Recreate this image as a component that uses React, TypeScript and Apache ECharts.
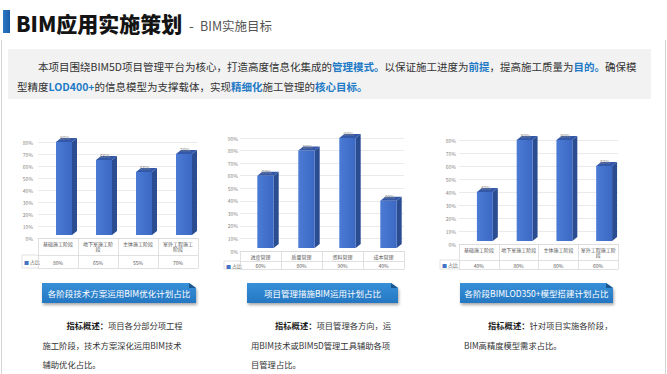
import React, { useEffect, useRef } from 'react';
import * as echarts from 'echarts';

const FONT = '"Noto Sans CJK SC", "Noto Sans", sans-serif';

// ---------- data ----------
const stageCategories1 = ['基础施工阶段', '地下室施工阶\n段', '主体施工阶段', '室外工程施工\n阶段'];
const techPlanValues = [80, 65, 55, 70];
const mgmtCategories = ['进度管理', '质量管理', '资料管理', '成本管理'];
const mgmtPlanValues = [60, 80, 90, 40];
const stageCategories3 = ['基础施工阶段', '地下室施工阶段', '主体施工阶段', '室外工程施工阶\n段'];
const modelPlanValues = [40, 80, 80, 60];
const seriesName = '占比';
const yTickStep = 10;

const titleMain = 'BIM应用实施策划';
const titleSub = 'BIM实施目标';
const introLine1 = '　　本项目围绕BIM5D项目管理平台为核心，打造高度信息化集成的{h|管理模式。}以保证施工进度为{h|前提}，提高施工质量为{h|目的。}确保模';
const introLine2 = '型精度{h|LOD400+}的信息模型为支撑载体，实现{h|精细化}施工管理的{h|核心目标。}';
const bannerTitles = ['各阶段技术方案运用BIM优化计划占比', '项目管理措施BIM运用计划占比', '各阶段BIMLOD350+模型搭建计划占比'];
const descLead = '指标概述：';
const descLines = [
  ['项目各分部分项工程', '施工阶段，技术方案深化运用BIM技术', '辅助优化占比。'],
  ['项目管理各方向，运', '用BIM技术或BIM5D管理工具辅助各项', '目管理占比。'],
  ['针对项目实施各阶段，', 'BIM高精度模型需求占比。'],
];

// ---------- layout ----------
const chartLayout = [
  { cats: stageCategories1, values: techPlanValues, left: 38, top: 142, width: 160, height: 96, rowOffset: 17, tableH: 30, rowMargin: 4.5, cellLeft: 22, labelMargin: 5, barDx: 6 },
  { cats: mgmtCategories, values: mgmtPlanValues, left: 240, top: 138, width: 164, height: 113, rowOffset: 10, tableH: 18, rowMargin: 1.5, cellLeft: 224, labelMargin: 2, barDx: 5 },
  { cats: stageCategories3, values: modelPlanValues, left: 459, top: 140, width: 159, height: 104, rowOffset: 16, tableH: 25, rowMargin: 2.5, cellLeft: 440, labelMargin: 3, barDx: 6 },
];
const bannerLayout = [{ x: 42, w: 154 }, { x: 247, w: 151 }, { x: 460, w: 153 }];
const descX = [42.5, 251, 464];

const TABLE_LINE = '#d9d9d9';

function makeRender(dx: number) {
  return (params: any, api: any) => {
    const idx = api.value(0);
    const val = api.value(1);
    const top = api.coord([idx, val]);
    const base = api.coord([idx, 0]);
    const w = api.size([1, 0])[0] * 0.4;
    const cx = top[0] + dx;
    const x0 = cx - w / 2;
    const x1 = cx + w / 2;
    const yT = top[1];
    const yB = base[1] - 3;
    const d = 5;
    const h = 4;
    return {
      type: 'group',
      children: [
        {
          type: 'polygon',
          shape: { points: [[x1, yT], [x1 + d, yT - h], [x1 + d, yB - h], [x1, yB]] },
          style: { fill: '#2a4d92' },
        },
        {
          type: 'rect',
          shape: { x: x0, y: yT, width: w, height: yB - yT },
          style: {
            fill: new echarts.graphic.LinearGradient(0, 0, 1, 0, [
              { offset: 0, color: '#4b7bd5' },
              { offset: 1, color: '#3b68c3' },
            ]),
          },
        },
        {
          type: 'polygon',
          shape: { points: [[x0, yT], [x0 + d, yT - h], [x1 + d, yT - h], [x1, yT]] },
          style: { fill: '#3458a8' },
        },
        {
          type: 'text',
          style: {
            text: val + '%',
            x: cx + 1,
            y: yT - 2,
            align: 'center',
            verticalAlign: 'bottom',
            textAlign: 'center',
            textVerticalAlign: 'bottom',
            fontSize: 5,
            fontFamily: FONT,
            fill: '#8a8a8a',
          },
        },
      ],
    };
  };
}

export default function App() {
  const ref = useRef<HTMLDivElement>(null);

  useEffect(() => {
    if (!ref.current) return;
    const chart = echarts.init(ref.current, undefined, { renderer: 'svg' });

    const grids: any[] = [];
    const xAxes: any[] = [];
    const yAxes: any[] = [];
    const series: any[] = [];
    const graphics: any[] = [];

    chartLayout.forEach((c, k) => {
      grids.push({ left: c.left, top: c.top, width: c.width, height: c.height, containLabel: false });
      const maxV = Math.ceil(Math.max(...c.values) / yTickStep) * yTickStep;
      yAxes.push({
        type: 'value',
        gridIndex: k,
        min: 0,
        max: maxV,
        interval: yTickStep,
        axisLine: { show: false },
        axisTick: { show: false },
        axisLabel: { formatter: '{value}%', fontSize: 5, color: '#7f7f7f', margin: c.labelMargin, fontFamily: FONT },
        splitLine: { lineStyle: { color: '#e4e4e4', width: 0.8 } },
      });
      xAxes.push({
        type: 'category',
        gridIndex: k,
        position: 'bottom',
        data: c.cats,
        axisLine: { show: true, lineStyle: { color: TABLE_LINE, width: 0.8 } },
        axisTick: { show: true, length: c.tableH, lineStyle: { color: TABLE_LINE, width: 0.8 } },
        axisLabel: { interval: 0, fontSize: 5, lineHeight: 5.5, color: '#595959', margin: 2.5, fontFamily: FONT },
        splitLine: { show: false },
      });
      xAxes.push({
        type: 'category',
        gridIndex: k,
        position: 'bottom',
        offset: c.rowOffset,
        data: c.values.map((v) => v + '%'),
        axisLine: { show: true, lineStyle: { color: TABLE_LINE, width: 0.8 } },
        axisTick: { show: false },
        axisLabel: { interval: 0, fontSize: 5, color: '#595959', margin: c.rowMargin, fontFamily: FONT },
      });
      xAxes.push({
        type: 'category',
        gridIndex: k,
        position: 'bottom',
        offset: c.tableH,
        data: c.cats,
        axisLine: { show: true, lineStyle: { color: TABLE_LINE, width: 0.8 } },
        axisTick: { show: false },
        axisLabel: { show: false },
      });
      series.push({
        type: 'custom',
        name: seriesName,
        xAxisIndex: k * 3,
        yAxisIndex: k,
        data: c.values.map((v, i) => [i, v]),
        encode: { x: 0, y: 1 },
        renderItem: makeRender(c.barDx),
      });

      // legend cell of the data table
      const axisY = c.top + c.height;
      const dividerY = axisY + c.rowOffset;
      const bottomY = axisY + c.tableH;
      const ls = { stroke: TABLE_LINE, lineWidth: 0.8 };
      graphics.push(
        { type: 'line', shape: { x1: c.cellLeft, y1: dividerY, x2: c.left, y2: dividerY }, style: ls },
        { type: 'line', shape: { x1: c.cellLeft, y1: bottomY, x2: c.left, y2: bottomY }, style: ls },
        { type: 'line', shape: { x1: c.cellLeft, y1: dividerY, x2: c.cellLeft, y2: bottomY }, style: ls },
        {
          type: 'text',
          style: {
            text: '{m|■} ' + seriesName,
            x: c.cellLeft + 2,
            y: (dividerY + bottomY) / 2,
            verticalAlign: 'middle',
            textVerticalAlign: 'middle',
            fontSize: 5,
            fontFamily: FONT,
            fill: '#595959',
            rich: { m: { fill: '#4472c4', color: '#4472c4', fontSize: 5, fontFamily: FONT } },
          },
        }
      );
    });

    // page frame
    graphics.push(
      { type: 'line', shape: { x1: 1.5, y1: 40, x2: 1.5, y2: 374 }, style: { stroke: '#d4d4d4', lineWidth: 1 } },
      { type: 'line', shape: { x1: 665.5, y1: 40, x2: 665.5, y2: 374 }, style: { stroke: '#d4d4d4', lineWidth: 1 } }
    );

    // title
    graphics.push(
      {
        type: 'rect',
        shape: { x: 3, y: 10, width: 7, height: 23 },
        style: {
          fill: new echarts.graphic.LinearGradient(0, 0, 1, 0, [
            { offset: 0, color: '#2a78c6' },
            { offset: 1, color: '#1a5ea8' },
          ]),
        },
      },
      {
        type: 'text',
        style: { text: titleMain, x: 16, y: 23, verticalAlign: 'middle', textVerticalAlign: 'middle', fontSize: 21, fontWeight: 900, fontFamily: FONT, fill: '#141414' },
      },
      {
        type: 'text',
        style: { text: '-', x: 189, y: 25, verticalAlign: 'middle', textVerticalAlign: 'middle', fontSize: 14, fontFamily: FONT, fill: '#555555' },
      },
      {
        type: 'text',
        style: { text: titleSub, x: 200, y: 25, verticalAlign: 'middle', textVerticalAlign: 'middle', fontSize: 12.5, fontFamily: FONT, fill: '#555555' },
      }
    );

    // intro box
    const richH = { h: { fill: '#1f7bc6', color: '#1f7bc6', fontWeight: 'bold', fontSize: 10.5, fontFamily: FONT } };
    graphics.push(
      { type: 'rect', shape: { x: 8, y: 49, width: 643, height: 50 }, style: { fill: '#f2f2f2' } },
      {
        type: 'text',
        style: { text: introLine1, x: 17, y: 66, verticalAlign: 'middle', textVerticalAlign: 'middle', fontSize: 10.5, fontFamily: FONT, fill: '#333333', rich: richH },
      },
      {
        type: 'text',
        style: { text: introLine2, x: 17, y: 86, verticalAlign: 'middle', textVerticalAlign: 'middle', fontSize: 10.5, fontFamily: FONT, fill: '#333333', rich: richH },
      }
    );

    // banners
    const bannerY = 283;
    const bannerH = 20;
    bannerLayout.forEach((b, i) => {
      const { x, w } = b;
      graphics.push(
        {
          type: 'polygon',
          shape: { points: [[x, bannerY], [x + w - 7, bannerY], [x + w, bannerY + 5], [x + w, bannerY + bannerH], [x, bannerY + bannerH]] },
          style: {
            fill: new echarts.graphic.LinearGradient(0, 0, 0, 1, [
              { offset: 0, color: '#3690d8' },
              { offset: 1, color: '#2677c2' },
            ]),
            shadowBlur: 3,
            shadowOffsetY: 2,
            shadowOffsetX: 1,
            shadowColor: 'rgba(0,0,0,0.35)',
          },
        },
        {
          type: 'polygon',
          shape: { points: [[x + w - 7, bannerY], [x + w, bannerY + 5], [x + w - 7, bannerY + 5]] },
          style: { fill: '#1a578f' },
        },
        {
          type: 'text',
          style: {
            text: bannerTitles[i],
            x: x + w / 2,
            y: bannerY + bannerH / 2,
            align: 'center',
            verticalAlign: 'middle',
            textAlign: 'center',
            textVerticalAlign: 'middle',
            fontSize: 8.5,
            fontFamily: FONT,
            fill: '#ffffff',
          },
        }
      );
    });

    // descriptions
    descLines.forEach((lines, i) => {
      lines.forEach((ln, j) => {
        const first = j === 0;
        graphics.push({
          type: 'text',
          style: {
            text: first ? '{b|' + descLead + '}' + ln : ln,
            x: descX[i] + (first ? 24 : 0),
            y: 325 + j * 19.5,
            verticalAlign: 'middle',
            textVerticalAlign: 'middle',
            fontSize: 8.3,
            fontFamily: FONT,
            fill: '#333333',
            rich: { b: { fontWeight: 'bold', fill: '#1a1a1a', color: '#1a1a1a', fontSize: 8.3, fontFamily: FONT } },
          },
        });
      });
    });

    chart.setOption({
      animation: false,
      backgroundColor: '#ffffff',
      textStyle: { fontFamily: FONT },
      grid: grids,
      xAxis: xAxes,
      yAxis: yAxes,
      series,
      graphic: graphics,
    });

    return () => chart.dispose();
  }, []);

  return <div ref={ref} style={{ position: 'fixed', left: 0, top: 0, width: 667, height: 374 }} />;
}
